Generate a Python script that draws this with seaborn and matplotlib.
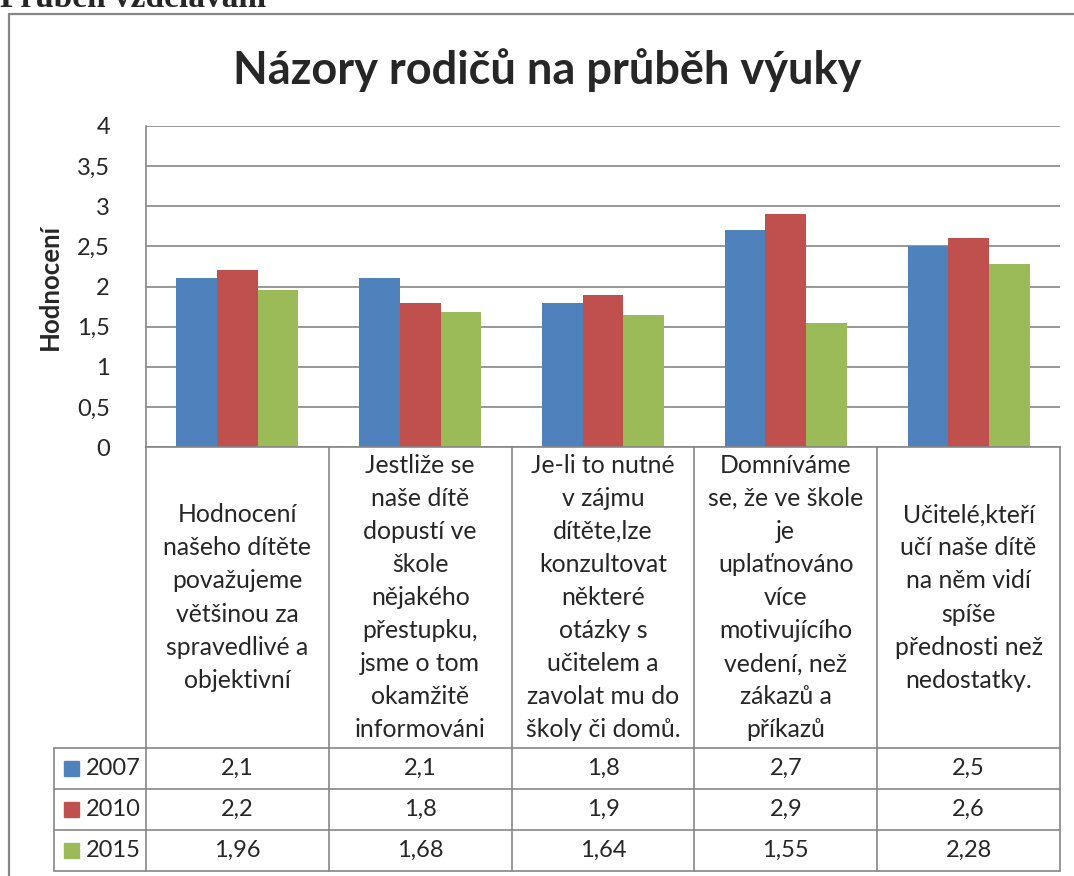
import numpy as np
import pandas as pd
import matplotlib
matplotlib.use('Agg')
import matplotlib.pyplot as plt
import matplotlib.transforms as mtransforms
from matplotlib.lines import Line2D
from matplotlib.patches import Rectangle
import seaborn as sns

# Data
categories = [
    "Hodnocení\nnašeho dítěte\npovažujeme\nvětšinou za\nspravedlivé a\nobjektivní",
    "Jestliže se\nnaše dítě\ndopustí ve\nškole\nnějakého\npřestupku,\njsme o tom\nokamžitě\ninformováni",
    "Je-li to nutné\nv zájmu\ndítěte,lze\nkonzultovat\nněkteré\notázky s\nučitelem a\nzavolat mu do\nškoly či domů.",
    "Domníváme\nse, že ve škole\nje\nuplaťnováno\nvíce\nmotivujícího\nvedení, než\nzákazů a\npříkazů",
    "Učitelé,kteří\nučí naše dítě\nna něm vidí\nspíše\npřednosti než\nnedostatky.",
]
years = ["2007", "2010", "2015"]
vals_2007 = [2.1, 2.1, 1.8, 2.7, 2.5]
vals_2010 = [2.2, 1.8, 1.9, 2.9, 2.6]
vals_2015 = [1.96, 1.68, 1.64, 1.55, 2.28]
colors = ["#4F81BD", "#C0504D", "#9BBB59"]
yticks = [0, 0.5, 1, 1.5, 2, 2.5, 3, 3.5, 4]

series = [vals_2007, vals_2010, vals_2015]
df = pd.DataFrame({
    'cat': [str(i) for s in series for i in range(len(categories))],
    'val': [v for s in series for v in s],
    'rok': [y for y, s in zip(years, series) for _ in s],
})

sns.set_theme(style='white')
plt.rcParams['font.family'] = ['Lato', 'Open Sans', 'DejaVu Sans']

W, H = 1074, 876
fig = plt.figure(figsize=(W / 100, H / 100), dpi=100)


def fx(px):
    return px / W


def fy(py):
    return 1 - py / H


grey = '#868686'
num_fs = 17
ax = fig.add_axes([fx(146), fy(447), fx(1060) - fx(146), fy(126) - fy(447)])

sns.barplot(data=df, x='cat', y='val', hue='rok', palette=colors, width=0.667,
            saturation=1, ax=ax, legend=False, linewidth=0)

ax.set_ylim(0, 4)
ax.set_yticks(yticks)
ax.set_yticklabels([f"{t:g}".replace('.', ',') for t in yticks], fontsize=num_fs)
ax.tick_params(axis='y', length=0, pad=26)
ax.set_xticks([])
ax.set_xlabel('')
ax.set_ylabel('Hodnocení', fontsize=18.5, fontweight='bold')
ax.yaxis.set_label_coords(-0.092, 0.5)
ax.grid(axis='y', color=grey, lw=1.2)
ax.set_axisbelow(True)
for s in ['top', 'right']:
    ax.spines[s].set_visible(False)
for s in ['left', 'bottom']:
    ax.spines[s].set_color(grey)
    ax.spines[s].set_linewidth(1.2)

# Title and headings
fig.text(fx(547), fy(70), 'Názory rodičů na průběh výuky', ha='center', va='center',
         fontsize=32.5, fontweight='bold')
fig.text(0, fy(7), 'Průběh vzdělávání', ha='left', va='baseline', fontsize=24,
         fontweight='bold', family=['Liberation Serif', 'DejaVu Serif'])

# Outer chart frame
fig.add_artist(Line2D([fx(9), fx(9)], [fy(14), 0], color=grey, lw=1.6))
fig.add_artist(Line2D([fx(9), 1], [fy(14), fy(14)], color=grey, lw=1.6))

# Data table
trans = mtransforms.blended_transform_factory(ax.transData, fig.transFigure)
n = len(categories)
row_top = 447
cat_bottom = 748
row_h = 41
table_bottom = cat_bottom + row_h * len(years)

for i in range(n + 1):
    ax.add_line(Line2D([i - 0.5, i - 0.5], [fy(row_top), fy(table_bottom)],
                       transform=trans, color=grey, lw=1.2, clip_on=False))
for r in range(len(years) + 1):
    y = fy(cat_bottom + r * row_h)
    fig.add_artist(Line2D([fx(54), fx(1060)], [y, y], color=grey, lw=1.2))
fig.add_artist(Line2D([fx(54), fx(54)], [fy(cat_bottom), fy(table_bottom)], color=grey, lw=1.2))

for i, cat in enumerate(categories):
    ax.text(i, fy((row_top + cat_bottom) / 2), cat, transform=trans, ha='center',
            va='center', fontsize=17.8, linespacing=1.53, multialignment='center')

for r, (yr, vals, c) in enumerate(zip(years, series, colors)):
    yc = fy(cat_bottom + r * row_h + row_h / 2)
    fig.add_artist(Rectangle((fx(64), yc - 7.5 / H), 15 / W, 15 / H, color=c))
    fig.text(fx(86), yc, yr, ha='left', va='center', fontsize=num_fs)
    for i, v in enumerate(vals):
        ax.text(i, yc, f"{v:g}".replace('.', ','), transform=trans, ha='center',
                va='center', fontsize=num_fs)

fig.savefig('out.png', dpi=100)
